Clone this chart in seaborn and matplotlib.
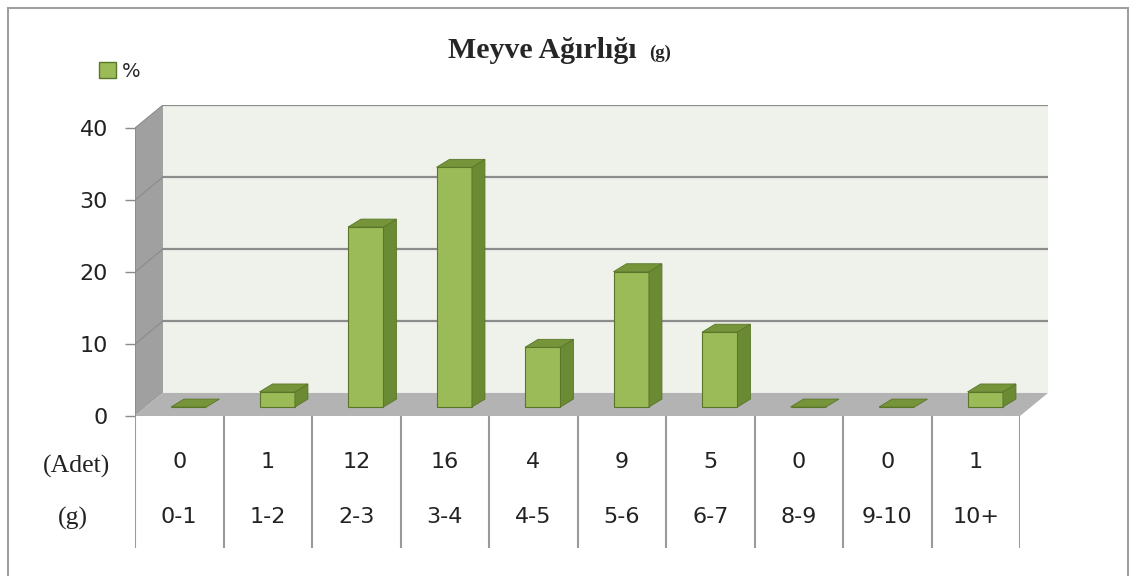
import numpy as np
import pandas as pd
import matplotlib.pyplot as plt
import seaborn as sns
from matplotlib.patches import Polygon, Rectangle, Patch

# -----------------------------
# Data
weight_bins = ["0-1", "1-2", "2-3", "3-4", "4-5", "5-6", "6-7", "8-9", "9-10", "10+"]
counts = [0, 1, 12, 16, 4, 9, 5, 0, 0, 1]
percent = [0, 2.1, 25.0, 33.3, 8.3, 18.8, 10.4, 0, 0, 2.1]
y_ticks = [0, 10, 20, 30, 40]

# -----------------------------
# Style Settings
sns.set_style("white")
plt.rcParams['font.family'] = ['DejaVu Sans']

W, H = 1136, 576
FRONT = "#9bbb59"
SIDE = "#6b8a34"
TOP = "#76953a"
EDGE = "#5a7528"
WALL = "#eef2ea"
SIDEWALL = "#a0a0a0"
FLOOR = "#b3b3b3"
GRID = "#8c8c8c"

# depth offsets of the pseudo 3D box (data units)
DX, DY = 0.316, 3.2
BAR_W = 0.40
SHIFT = 0.107
BASE = 1.25
BDX, BDY = 0.147, 1.1

fig = plt.figure(figsize=(W / 100, H / 100), dpi=100)
fig.patches.append(Rectangle((8 / W, -0.01), 1120 / W, 1 - 8 / H + 0.01,
                             transform=fig.transFigure, fill=False,
                             edgecolor="#a0a0a0", linewidth=1.5))

# main plot area: front left/bottom corner at (135, 416) px
ax = fig.add_axes([135 / W, (H - 416) / H, (1048 - 135) / W, (416 - 105) / H])
n = len(weight_bins)
df = pd.DataFrame({"pos": np.arange(n) + SHIFT, "pct": percent})

# back wall, side wall, floor
ax.add_patch(Rectangle((-0.5 + DX, DY), n, 40, facecolor=WALL, edgecolor="none", zorder=0))
ax.add_patch(Polygon([(-0.5, 0), (-0.5, 40), (-0.5 + DX, 40 + DY), (-0.5 + DX, DY)],
                     closed=True, facecolor=SIDEWALL, edgecolor="none", zorder=1))
ax.add_patch(Polygon([(-0.5, 0), (n - 0.5, 0), (n - 0.5 + DX, DY), (-0.5 + DX, DY)],
                     closed=True, facecolor=FLOOR, edgecolor="none", zorder=2))
for t in y_ticks[1:]:
    ax.plot([-0.5 + DX, n - 0.5 + DX], [t + DY, t + DY], color=GRID, lw=1.6, zorder=1)
    ax.plot([-0.5, -0.5 + DX], [t, t + DY], color="#8a8a8a", lw=0.8, zorder=2)
ax.plot([-0.5, -0.5], [0, 40], color="#8a8a8a", lw=1.2, zorder=3)

# front faces
sns.barplot(data=df, x="pos", y="pct", native_scale=True, width=BAR_W,
            color=FRONT, edgecolor=EDGE, linewidth=0.8, saturation=1, ax=ax, zorder=5)
for p in ax.containers[0]:
    p.set_y(BASE)

# side and top faces
for i, v in enumerate(percent):
    x0 = i + SHIFT - BAR_W / 2
    x1 = x0 + BAR_W
    top = BASE + v
    if v > 0:
        ax.add_patch(Polygon([(x1, BASE), (x1 + BDX, BASE + BDY), (x1 + BDX, top + BDY), (x1, top)],
                             closed=True, facecolor=SIDE, edgecolor=EDGE, lw=0.6, zorder=5))
    ax.add_patch(Polygon([(x0, top), (x1, top), (x1 + BDX, top + BDY), (x0 + BDX, top + BDY)],
                         closed=True, facecolor=TOP, edgecolor=EDGE, lw=0.6, zorder=6))

ax.set_xlim(-0.5, n - 0.5 + DX)
ax.set_ylim(0, 40 + DY)
ax.set_yticks(y_ticks)
ax.set_yticklabels([str(t) for t in y_ticks], fontsize=16, color="#222222")
ax.set_xticks([])
ax.set_xlabel("")
ax.set_ylabel("")
ax.tick_params(axis="y", length=7.5, width=1, color="#8a8a8a", pad=12, left=True)
for s in ax.spines.values():
    s.set_visible(False)
ax.patch.set_alpha(0)

# data table under the plot
tb = fig.add_axes([135 / W, (H - 548) / H, (1020 - 135) / W, (548 - 416) / H])
tb.set_xlim(-0.5, n - 0.5)
tb.set_ylim(548, 416)
tb.axis("off")
for i in range(n + 1):
    tb.plot([i - 0.5, i - 0.5], [416, 548], color="#9a9a9a", lw=1.5)
for i in range(n):
    tb.text(i, 462, str(counts[i]), ha="center", va="center", fontsize=16, color="#222222")
    tb.text(i, 517, weight_bins[i], ha="center", va="center", fontsize=16, color="#222222")
tb.text(-1.16, 466, "(Adet)", ha="center", va="center", fontsize=18.5,
        family="Liberation Serif", color="#222222", clip_on=False)
tb.text(-1.2, 518, "(g)", ha="center", va="center", fontsize=18.5,
        family="Liberation Serif", color="#222222", clip_on=False)

# title, with the smaller unit right after it
title = fig.text(448 / W, 1 - 58 / H, "Meyve Ağırlığı", fontsize=21.5, fontweight="bold",
                 family="Liberation Serif", ha="left", va="baseline")
fig.canvas.draw()
tx1 = title.get_window_extent().x1
fig.text((tx1 + 12) / W, 1 - 58 / H, "(g)", fontsize=13.5, fontweight="bold",
         family="Liberation Serif", ha="left", va="baseline")

# legend
fig.legend(handles=[Patch(facecolor=FRONT, edgecolor=EDGE)], labels=["%"],
           loc="center left", bbox_to_anchor=(81 / W, 1 - 71 / H), frameon=False,
           handlelength=0.9, handleheight=0.9, handletextpad=0.3, fontsize=14)

plt.savefig("out.png", dpi=100)
